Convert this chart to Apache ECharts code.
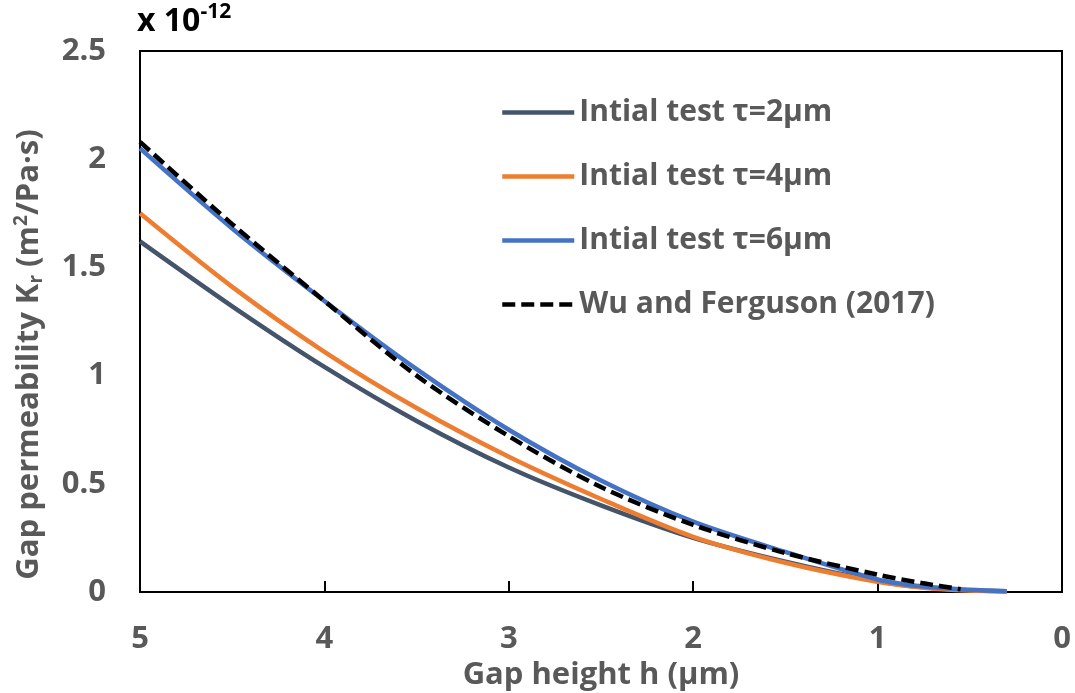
<!DOCTYPE html>
<html>
<head>
<meta charset="utf-8">
<script src="https://cdn.jsdelivr.net/npm/echarts@6/dist/echarts.min.js"></script>
<style>
  html, body { margin: 0; padding: 0; background: #fff; }
  #chart { width: 1075px; height: 693px; }
</style>
</head>
<body>
<div id="chart"></div>
<script>
// gap height h (um)
var hGap = [5, 4.5, 4, 3.5, 3, 2.5, 2, 1.5, 1, 0.75, 0.5, 0.3];
var hWu = [5, 4.5, 4, 3.5, 3, 2.5, 2, 1.5, 1, 0.75, 0.55];

// permeability, x 10^-12 m2/(Pa s)
var tau2 = [1.62, 1.32, 1.04, 0.79, 0.575, 0.4, 0.25, 0.14, 0.05, 0.022, 0.008, 0.003];
var tau4 = [1.75, 1.41, 1.11, 0.85, 0.625, 0.43, 0.255, 0.135, 0.047, 0.02, 0.007, 0.003];
var tau6 = [2.05, 1.68, 1.345, 1.03, 0.75, 0.515, 0.325, 0.185, 0.058, 0.025, 0.01, 0.004];
var wuFerguson = [2.08, 1.7, 1.345, 1.0, 0.72, 0.485, 0.31, 0.18, 0.08, 0.04, 0.013];

var seriesNames = ["Intial test τ=2μm", "Intial test τ=4μm", "Intial test τ=6μm", "Wu and Ferguson (2017)"];
var xTicks = [0, 1, 2, 3, 4, 5];
var yTicks = [0, 0.5, 1, 1.5, 2, 2.5];

function pairs(xs, ys) {
  return xs.map(function (x, i) { return [x, ys[i]]; });
}

var font = "Open Sans";
var grey = "#595959";

var chart = echarts.init(document.getElementById("chart"));

function lineSeries(name, xs, ys, color, type) {
  return {
    name: name,
    type: "line",
    data: pairs(xs, ys),
    smooth: 0.3,
    symbol: "none",
    lineStyle: { color: color, width: 4.5, type: type || "solid" },
    itemStyle: { color: color }
  };
}

var option = {
  animation: false,
  backgroundColor: "#fff",
  grid: {
    left: 140,
    right: 13,
    top: 51,
    bottom: 101,
    outerBoundsMode: "none",
    containLabel: false,
    show: true,
    borderColor: "#000",
    borderWidth: 2,
    backgroundColor: "transparent"
  },
  legend: {
    left: 495,
    top: 90,
    orient: "vertical",
    itemWidth: 72,
    itemHeight: 14,
    itemGap: 29,
    itemStyle: { opacity: 0 },
    lineStyle: { width: 4.5 },
    textStyle: {
      fontFamily: font,
      fontWeight: "bold",
      fontSize: 30,
      color: grey,
      lineHeight: 35
    },
    data: seriesNames
  },
  xAxis: {
    type: "value",
    inverse: true,
    min: xTicks[0],
    max: xTicks[xTicks.length - 1],
    interval: 1,
    name: "Gap height h (μm)",
    nameLocation: "middle",
    nameGap: 62,
    nameTextStyle: { fontFamily: font, fontWeight: "bold", fontSize: 31, color: grey },
    axisLine: { show: true, lineStyle: { color: "#000", width: 2 } },
    axisTick: { show: true, inside: true, length: 11, lineStyle: { color: "#000", width: 2 } },
    axisLabel: { margin: 32, fontFamily: font, fontWeight: "bold", fontSize: 31, color: grey },
    splitLine: { show: false }
  },
  yAxis: {
    type: "value",
    min: yTicks[0],
    max: yTicks[yTicks.length - 1],
    interval: 0.5,
    name: "{b|Gap permeability K}{sub|r}{b| (m}{sup|2}{b|/Pa·s)}",
    nameLocation: "middle",
    nameGap: 94,
    nameRotate: 90,
    nameTextStyle: {
      padding: [0, 66, 0, 0],
      rich: {
        b: { fontFamily: font, fontWeight: "bold", fontSize: 31, color: grey },
        sub: { fontFamily: font, fontWeight: "bold", fontSize: 19, color: grey, padding: [15, 0, 0, 0] },
        sup: { fontFamily: font, fontWeight: "bold", fontSize: 19, color: grey, padding: [0, 0, 15, 0] }
      }
    },
    axisLine: { show: true, lineStyle: { color: "#000", width: 2 } },
    axisTick: { show: false },
    axisLabel: { margin: 34, fontFamily: font, fontWeight: "bold", fontSize: 31, color: grey },
    splitLine: { show: false }
  },
  graphic: [
    {
      type: "text",
      left: 137,
      top: 2,
      style: {
        text: "{b|x 10}{sup|-12}",
        rich: {
          b: { fontFamily: font, fontWeight: "bold", fontSize: 32, color: grey },
          sup: { fontFamily: font, fontWeight: "bold", fontSize: 21, color: grey, padding: [0, 0, 18, 0] }
        }
      }
    }
  ],
  series: [
    lineSeries(seriesNames[0], hGap, tau2, "#44546A"),
    lineSeries(seriesNames[1], hGap, tau4, "#ED7D31"),
    lineSeries(seriesNames[2], hGap, tau6, "#4472C4"),
    lineSeries(seriesNames[3], hWu, wuFerguson, "#000", [13, 6])
  ]
};

chart.setOption(option);
</script>
</body>
</html>
